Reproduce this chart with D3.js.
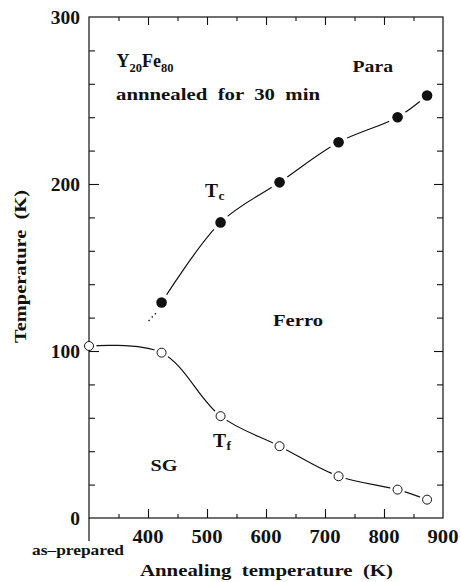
<!DOCTYPE html>
<html>
<head>
<meta charset="utf-8">
<script src="https://cdn.jsdelivr.net/npm/d3@7"></script>
<style>
  html, body { margin: 0; padding: 0; background: #fff; }
  svg { display: block; }
</style>
</head>
<body>
<svg id="chart" width="460" height="582"></svg>
<script>
// Annealing temperatures (K); 300 stands for the as-prepared sample
const tcAnneal = [423, 523, 623, 723, 823, 873];
const tcValues = [129, 177, 201, 225, 240, 253];
const tfAnneal = [300, 423, 523, 623, 723, 823, 873];
const tfValues = [103, 99, 61, 43, 25, 17, 11];
// dotted extrapolation of Tc below the lowest annealing point
const tcExtrapAnneal = [401, 417];
const tcExtrapValues = [118, 124];

const xTickLabels = [400, 500, 600, 700, 800, 900];
const xMajorTicks = [400, 500, 600, 700, 800];
const xMinorTicks = [350, 450, 550, 650, 750, 850];
const yTickLabels = [0, 100, 200, 300];
const yMajorTicks = [100, 200];
const yMinorTicks = [20, 40, 60, 80, 120, 140, 160, 180, 220, 240, 260, 280];

const FONT = "'Liberation Serif'";
const svg = d3.select("#chart");
const x = d3.scaleLinear().domain([300, 900]).range([89, 443]);
const y = d3.scaleLinear().domain([0, 300]).range([518, 17]);

function label(sel) {
  return sel.style("font-family", FONT).style("font-weight", "bold")
    .style("white-space", "pre").attr("fill", "#111");
}

const line = d3.line().x(d => x(d[0])).y(d => y(d[1])).curve(d3.curveCatmullRom.alpha(0.5));
const tcPts = tcAnneal.map((a, i) => [a, tcValues[i]]);
const tfPts = tfAnneal.map((a, i) => [a, tfValues[i]]);
const extrapPts = tcExtrapAnneal.map((a, i) => [a, tcExtrapValues[i]]);

// curves
svg.append("path").attr("d", line(tcPts)).attr("fill", "none").attr("stroke", "#111").attr("stroke-width", 1.2);
svg.append("path").attr("d", line(tfPts)).attr("fill", "none").attr("stroke", "#111").attr("stroke-width", 1.2);
svg.append("path").attr("d", d3.line().x(d => x(d[0])).y(d => y(d[1]))(extrapPts))
  .attr("fill", "none").attr("stroke", "#111").attr("stroke-width", 1.4).attr("stroke-dasharray", "1.4,3.2");

// white gaps around the markers
svg.append("g").selectAll("circle").data(tcPts).join("circle")
  .attr("cx", d => x(d[0])).attr("cy", d => y(d[1])).attr("r", 9.5).attr("fill", "#fff");
svg.append("g").selectAll("circle").data(tfPts).join("circle")
  .attr("cx", d => x(d[0])).attr("cy", d => y(d[1])).attr("r", 7.5).attr("fill", "#fff");

// frame and ticks
const frame = svg.append("g").attr("stroke", "#111").attr("stroke-width", 1.2).attr("fill", "none");
frame.append("rect").attr("x", x(300)).attr("y", y(300)).attr("width", x(900) - x(300)).attr("height", y(0) - y(300));
frame.append("line").attr("x1", x(300)).attr("x2", x(300)).attr("y1", y(0)).attr("y2", y(0) + 23);

function tickAxis(axis, transform) {
  const g = svg.append("g").attr("transform", transform).call(axis);
  g.select(".domain").remove();
  g.selectAll("line").attr("stroke", "#111").attr("stroke-width", 1.1);
  g.selectAll("text").remove();
}
tickAxis(d3.axisBottom(x).tickValues(xMajorTicks).tickSize(-9), `translate(0,${y(0)})`);
tickAxis(d3.axisBottom(x).tickValues(xMinorTicks).tickSize(-4), `translate(0,${y(0)})`);
tickAxis(d3.axisTop(x).tickValues(xMajorTicks).tickSize(-8), `translate(0,${y(300)})`);
tickAxis(d3.axisTop(x).tickValues(xMinorTicks).tickSize(-4), `translate(0,${y(300)})`);
tickAxis(d3.axisLeft(y).tickValues(yMajorTicks).tickSize(-10), `translate(${x(300)},0)`);
tickAxis(d3.axisLeft(y).tickValues(yMinorTicks).tickSize(-6), `translate(${x(300)},0)`);
tickAxis(d3.axisRight(y).tickValues(yMajorTicks).tickSize(-9), `translate(${x(900)},0)`);
tickAxis(d3.axisRight(y).tickValues(yMinorTicks).tickSize(-6), `translate(${x(900)},0)`);

// tick labels
label(svg.append("g").selectAll("text").data(xTickLabels).join("text"))
  .attr("x", d => x(d)).attr("y", 543).attr("text-anchor", "middle")
  .attr("font-size", 19.5).attr("textLength", 31).attr("lengthAdjust", "spacingAndGlyphs").text(d => d);
label(svg.append("g").selectAll("text").data(yTickLabels).join("text"))
  .attr("x", 80).attr("y", d => y(d)).attr("dy", "0.36em").attr("text-anchor", "end")
  .attr("font-size", 19.5).text(d => d);

label(svg.append("text")).attr("x", 32).attr("y", 555).attr("font-size", 14)
  .attr("textLength", 92).attr("lengthAdjust", "spacingAndGlyphs").text("as\u2013prepared");

// axis titles
label(svg.append("text")).attr("x", 140).attr("y", 575.5).attr("font-size", 17.5)
  .attr("textLength", 253).attr("lengthAdjust", "spacingAndGlyphs").text("Annealing  temperature  (K)");
label(svg.append("text")).attr("transform", "translate(26,343) rotate(-90)").attr("font-size", 17.5)
  .attr("textLength", 153).attr("lengthAdjust", "spacingAndGlyphs").text("Temperature  (K)");

// annotations
const t1 = label(svg.append("text")).attr("x", 116.5).attr("y", 66.5).attr("font-size", 18);
t1.append("tspan").text("Y");
t1.append("tspan").attr("font-size", 12.5).attr("dy", 5).text("20");
t1.append("tspan").attr("dy", -5).text("Fe");
t1.append("tspan").attr("font-size", 12.5).attr("dy", 5).text("80");

label(svg.append("text")).attr("x", 116).attr("y", 100).attr("font-size", 17.5)
  .attr("textLength", 204).attr("lengthAdjust", "spacingAndGlyphs").text("annnealed  for  30  min");
label(svg.append("text")).attr("x", 352.5).attr("y", 72).attr("font-size", 17.5)
  .attr("textLength", 40.5).attr("lengthAdjust", "spacingAndGlyphs").text("Para");
label(svg.append("text")).attr("x", 273).attr("y", 326).attr("font-size", 17.5)
  .attr("textLength", 50).attr("lengthAdjust", "spacingAndGlyphs").text("Ferro");
label(svg.append("text")).attr("x", 150.5).attr("y", 471).attr("font-size", 17.5)
  .attr("textLength", 27).attr("lengthAdjust", "spacingAndGlyphs").text("SG");

const tc = label(svg.append("text")).attr("x", 205).attr("y", 196.7).attr("font-size", 19.5);
tc.append("tspan").text("T");
tc.append("tspan").attr("font-size", 13.5).attr("dy", 3).attr("dx", 0.5).text("c");
const tf = label(svg.append("text")).attr("x", 213).attr("y", 446.7).attr("font-size", 19.5);
tf.append("tspan").text("T");
tf.append("tspan").attr("font-size", 13.5).attr("dy", 3).attr("dx", 0.5).text("f");

// markers
svg.append("g").selectAll("circle").data(tcPts).join("circle")
  .attr("cx", d => x(d[0])).attr("cy", d => y(d[1])).attr("r", 5.3).attr("fill", "#111");
svg.append("g").selectAll("circle").data(tfPts).join("circle")
  .attr("cx", d => x(d[0])).attr("cy", d => y(d[1])).attr("r", 4.5)
  .attr("fill", "#fff").attr("stroke", "#111").attr("stroke-width", 1);
</script>
</body>
</html>
